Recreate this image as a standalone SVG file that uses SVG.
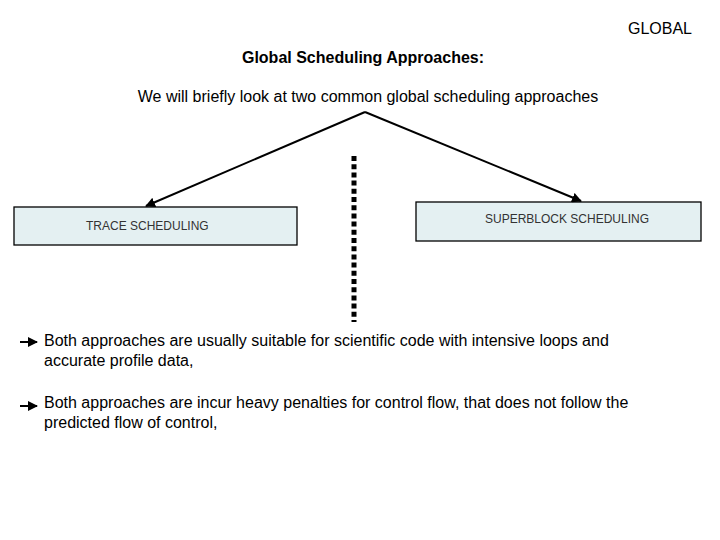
<svg xmlns="http://www.w3.org/2000/svg" width="720" height="540" viewBox="0 0 720 540">
<style>
text{font-family:"Liberation Sans",Arial,sans-serif;fill:#000}
.t{font-size:16px}
.b{font-size:16px}
.box{fill:#E4F0F2;stroke:#000;stroke-width:1.3}
.bl{font-size:12px;fill:#333}
.c{stroke:#000;stroke-width:2;fill:none}
</style>
<defs>
<marker id="ah" viewBox="0 0 10 10" refX="9" refY="5" markerWidth="5" markerHeight="5" orient="auto" markerUnits="strokeWidth">
<path d="M0,0 L10,5 L0,10 z" fill="#000"/>
</marker>
</defs>
<rect width="720" height="540" fill="#fff"/>
<text class="t" x="692" y="34" text-anchor="end">GLOBAL</text>
<text class="t" x="363" y="63" text-anchor="middle" font-weight="bold">Global Scheduling Approaches:</text>
<g id="root"><text class="t" x="368" y="102" text-anchor="middle">We will briefly look at two common global scheduling approaches</text></g>
<g id="trace">
<rect class="box" x="14" y="207" width="283" height="38"/>
<text class="bl" x="86" y="230">TRACE SCHEDULING</text>
</g>
<g id="superblock">
<rect class="box" x="416" y="202" width="285" height="39"/>
<text class="bl" x="485" y="223">SUPERBLOCK SCHEDULING</text>
</g>
<g id="connectors">
<path class="c" d="M365,112 L146,206" marker-end="url(#ah)"/>
<path class="c" d="M365,112 L581,201" marker-end="url(#ah)"/>
<line x1="354" y1="156" x2="354" y2="322" stroke="#000" stroke-width="5" stroke-dasharray="5 3.2"/>
</g>
<g id="bullets">
<line x1="20" y1="342" x2="37" y2="342" stroke="#000" stroke-width="2" marker-end="url(#ah)"/>
<text class="b" x="44" y="346">Both approaches are usually suitable for scientific code with intensive loops and</text>
<text class="b" x="44" y="366">accurate profile data,</text>
<line x1="20" y1="406" x2="37" y2="406" stroke="#000" stroke-width="2" marker-end="url(#ah)"/>
<text class="b" x="44" y="408">Both approaches are incur heavy penalties for control flow, that does not follow the</text>
<text class="b" x="44" y="428">predicted flow of control,</text>
</g>
</svg>
